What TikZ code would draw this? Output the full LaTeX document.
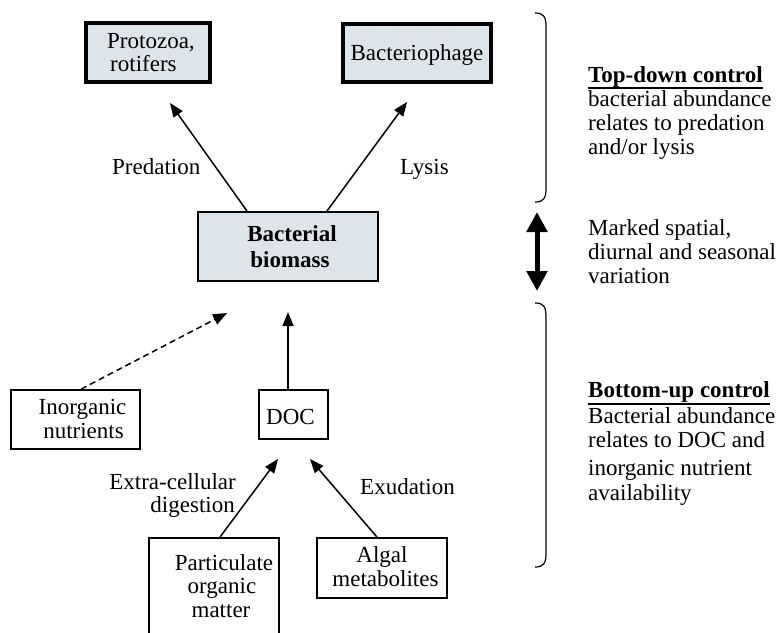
\documentclass[tikz,border=0pt]{standalone}
\usepackage{fontspec}
\setmainfont{Liberation Serif}
\usetikzlibrary{arrows.meta,calc}
\definecolor{boxfill}{RGB}{222,229,234}
\tikzset{
  txt/.style={inner sep=0pt, font=\fontsize{23}{27}\selectfont},
  btxt/.style={inner sep=0pt, font=\fontsize{23}{27}\selectfont\bfseries},
  topbox/.style={draw, line width=3.2pt, fill=boxfill, inner sep=0pt},
  midbox/.style={draw, line width=2pt, fill=boxfill, inner sep=0pt},
  lowbox/.style={draw, line width=1.8pt, inner sep=0pt},
  arr/.style={line width=1.5pt, -{Triangle[length=14pt,width=11pt]}},
  brace/.style={line width=1.2pt},
}
\begin{document}
\begin{tikzpicture}[x=1pt,y=-1pt]
\clip (0,0) rectangle (779,632);
\fill[white] (0,0) rectangle (779,632);

% boxes
\node[topbox, minimum width=124pt, minimum height=59pt] (proto) at (148,52.5) {};
\node[topbox, minimum width=148pt, minimum height=58pt] (phage) at (417,53) {};
\node[midbox, minimum width=180pt, minimum height=69pt] (bio) at (288,246.5) {};
\node[lowbox, minimum width=129pt, minimum height=59pt] (inorg) at (75.5,419.5) {};
\node[lowbox, minimum width=69pt, minimum height=49pt] (doc) at (293.5,414.5) {};
\node[lowbox, minimum width=130pt, minimum height=104pt] (part) at (214,590) {};
\node[lowbox, minimum width=130pt, minimum height=60pt] (alg) at (382,568) {};

% box texts
\node[txt, anchor=base west] (protoA) at (107,48) {Protozoa,};
\node[txt, anchor=base west] (protoB) at (110,71) {rotifers};
\node[txt, anchor=base] (phageT) at (417,60) {Bacteriophage};
\node[btxt, anchor=base] (bioA) at (292,241) {Bacterial};
\node[btxt, anchor=base] (bioB) at (290,267) {biomass};
\node[txt, anchor=base] (inorgA) at (82.5,414) {Inorganic};
\node[txt, anchor=base] (inorgB) at (83.5,438) {nutrients};
\node[txt, anchor=base] (docT) at (290.5,424) {DOC};
\node[txt, anchor=base] (partA) at (224,570) {Particulate};
\node[txt, anchor=base] (partB) at (222,593) {organic};
\node[txt, anchor=base] (partC) at (221,617) {matter};
\node[txt, anchor=base] (algA) at (382,562) {Algal};
\node[txt, anchor=base] (algB) at (385.5,586) {metabolites};

% arrow labels
\node[txt, anchor=base west] (predL) at (112,174) {Predation};
\node[txt, anchor=base west] (lysL) at (400,174) {Lysis};
\node[txt, anchor=base east] (ecA) at (236,489) {Extra-cellular};
\node[txt, anchor=base east] (ecB) at (235,512) {digestion};
\node[txt, anchor=base west] (exL) at (360,494) {Exudation};

% arrow tips
\coordinate (predTip) at (170,103);
\coordinate (lysTip) at (407,102);
\coordinate (inTip) at (227,313);
\coordinate (docTip) at (288,312);
\coordinate (partTip) at (278,459);
\coordinate (algTip) at (310,459);

\draw[arr] ($(bio.north west)+(50,0)$) -- (predTip);
\draw[arr] ($(bio.north west)+(130,0)$) -- (lysTip);
\draw[arr, dash pattern=on 6pt off 4pt] ($(inorg.north west)+(71,0)$) -- (inTip);
\draw[arr] ($(doc.north)+(-5.5,0)$) -- (docTip);
\draw[arr] ($(part.north)+(6,0)$) -- (partTip);
\draw[arr] ($(alg.north)+(-5,0)$) -- (algTip);

% double arrow
\coordinate (dTop) at (537,212);
\coordinate (dBot) at (537,291);
\draw[line width=5pt, {Triangle[length=20pt,width=20pt]}-{Triangle[length=20pt,width=20pt]}] (dTop) -- (dBot);

% braces
\draw[brace] (535,13) .. controls (544,13) and (546,17) .. (546,27) -- (546,188) .. controls (546,198) and (544,202) .. (535,202);
\draw[brace] (535,303) .. controls (544,303) and (546,307) .. (546,317) -- (546,553) .. controls (546,563) and (544,567) .. (535,567);

% right texts
\node[btxt, anchor=base west] (tdH) at (588,82) {Top-down control};
\draw[line width=2pt] ($(tdH.base west)+(0,5.5)$) -- ($(tdH.base east)+(0,5.5)$);
\node[txt, anchor=base west] (td1) at (588,106) {bacterial abundance};
\node[txt, anchor=base west] (td2) at (588,130) {relates to predation};
\node[txt, anchor=base west] (td3) at (588,154) {and/or lysis};

\node[txt, anchor=base west] (mk1) at (588,235) {Marked spatial,};
\node[txt, anchor=base west] (mk2) at (588,259) {diurnal and seasonal};
\node[txt, anchor=base west] (mk3) at (588,283) {variation};

\node[btxt, anchor=base west] (buH) at (588,397) {Bottom-up control};
\draw[line width=2pt] ($(buH.base west)+(0,6.5)$) -- ($(buH.base east)+(0,6.5)$);
\node[txt, anchor=base west] (bu1) at (588,423) {Bacterial abundance};
\node[txt, anchor=base west] (bu2) at (588,447) {relates to DOC and};
\node[txt, anchor=base west] (bu3) at (588,475) {inorganic nutrient};
\node[txt, anchor=base west] (bu4) at (588,500) {availability};
\end{tikzpicture}
\end{document}
